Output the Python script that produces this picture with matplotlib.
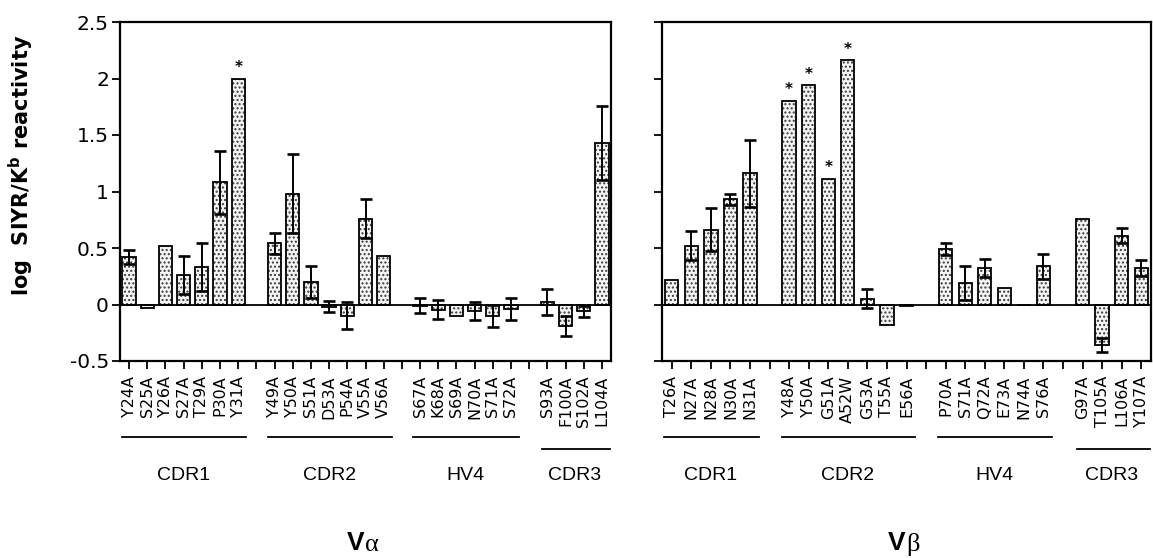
import matplotlib

matplotlib.use("Agg")
import matplotlib.pyplot as plt
from matplotlib.ticker import FuncFormatter
from matplotlib.transforms import blended_transform_factory


# ------------------------------------------------------------
# Data
# ------------------------------------------------------------

GROUP_NAMES = ["CDR1", "CDR2", "HV4", "CDR3"]

VA_MUTANTS = [
    ["Y24A", "S25A", "Y26A", "S27A", "T29A", "P30A", "Y31A"],
    ["Y49A", "Y50A", "S51A", "D53A", "P54A", "V55A", "V56A"],
    ["S67A", "K68A", "S69A", "N70A", "S71A", "S72A"],
    ["S93A", "F100A", "S102A", "L104A"],
]
VA_VALUES = [
    [0.42, -0.035, 0.52, 0.26, 0.33, 1.08, 2.00],
    [0.54, 0.98, 0.20, -0.02, -0.10, 0.76, 0.43],
    [-0.01, -0.045, -0.105, -0.06, -0.10, -0.04],
    [0.025, -0.19, -0.06, 1.43],
]
VA_ERRORS = [
    [0.06, 0.0, 0.0, 0.165, 0.21, 0.28, 0.0],
    [0.09, 0.35, 0.14, 0.05, 0.12, 0.17, 0.0],
    [0.065, 0.085, 0.0, 0.08, 0.10, 0.10],
    [0.115, 0.09, 0.05, 0.33],
]
VA_STARS = ["Y31A"]

VB_MUTANTS = [
    ["T26A", "N27A", "N28A", "N30A", "N31A"],
    ["Y48A", "Y50A", "G51A", "A52W", "G53A", "T55A", "E56A"],
    ["P70A", "S71A", "Q72A", "E73A", "N74A", "S76A"],
    ["G97A", "T105A", "L106A", "Y107A"],
]
VB_VALUES = [
    [0.22, 0.52, 0.66, 0.93, 1.16],
    [1.80, 1.94, 1.11, 2.16, 0.05, -0.18, -0.01],
    [0.49, 0.19, 0.32, 0.15, 0.0, 0.34],
    [0.76, -0.36, 0.61, 0.32],
]
VB_ERRORS = [
    [0.0, 0.13, 0.19, 0.05, 0.30],
    [0.0, 0.0, 0.0, 0.0, 0.085, 0.0, 0.0],
    [0.05, 0.15, 0.08, 0.0, 0.0, 0.11],
    [0.0, 0.06, 0.065, 0.07],
]
VB_STARS = ["Y48A", "Y50A", "G51A", "A52W"]

Y_TICKS = [-0.5, 0, 0.5, 1, 1.5, 2, 2.5]

W, H = 1153, 558


def fy(px):
    """Figure fraction from a pixel row counted from the top."""
    return 1 - px / H


def draw_panel(ax, mutants, values, errors, stars, bar_width):
    fig = ax.figure
    below = blended_transform_factory(ax.transData, fig.transFigure)

    positions, tick_labels = [], []
    pos = 0
    n_slots = sum(len(m) for m in mutants) + len(mutants) - 1
    for g, (names, vals, errs) in enumerate(zip(mutants, values, errors)):
        xs = list(range(pos, pos + len(names)))

        # dotted fill, then black outline
        ax.bar(xs, vals, bar_width, color="#f4f4f4", edgecolor="#3c3c3c",
               hatch="....", linewidth=0, zorder=2)
        ax.bar(xs, vals, bar_width, fill=False, edgecolor="black",
               linewidth=1.3, zorder=3)

        ex = [x for x, e in zip(xs, errs) if e > 0]
        ev = [v for v, e in zip(vals, errs) if e > 0]
        ee = [e for e in errs if e > 0]
        ax.errorbar(ex, ev, yerr=ee, fmt="none", ecolor="black",
                    elinewidth=1.4, capsize=4.2, capthick=1.9, zorder=4)

        for x, name, v in zip(xs, names, vals):
            if name in stars:
                ax.annotate("*", (x, v), xytext=(0, 8),
                            textcoords="offset points", ha="center",
                            va="center", fontsize=11, fontweight="bold")

        # group underline and name
        name = GROUP_NAMES[g]
        if name == "CDR3":
            line_y = fy(449)
            left, right = xs[0] - 0.3, min(xs[-1] + 0.45, n_slots - 0.55)
        else:
            line_y = fy(437)
            left, right = xs[0] - 0.38, xs[-1] + 0.45
        ax.plot([left, right], [line_y, line_y], color="black",
                linewidth=1.3, transform=below, clip_on=False)
        ax.text((xs[0] + xs[-1]) / 2, fy(476), name, transform=below,
                ha="center", va="center", fontsize=14,
                family="Liberation Sans")

        positions += xs
        tick_labels += names
        if g < len(mutants) - 1:
            positions.append(pos + len(names))
            tick_labels.append("")
        pos += len(names) + 1

    ax.set_xlim(-0.5, n_slots - 0.5)
    ax.set_ylim(-0.5, 2.5)
    ax.set_xticks(positions)
    ax.set_xticklabels(tick_labels, rotation=90, fontsize=11.5)
    ax.set_yticks(Y_TICKS)
    ax.yaxis.set_major_formatter(FuncFormatter(lambda v, p: f"{v:g}"))
    ax.axhline(0, color="black", linewidth=1.3, zorder=5)

    ax.tick_params(axis="x", direction="out", length=6, width=1.3, pad=4.5)
    ax.tick_params(axis="y", direction="out", length=6, width=1.3, pad=2,
                   labelsize=14.5)
    for spine in ax.spines.values():
        spine.set_linewidth(1.6)


fig = plt.figure(figsize=(W / 100, H / 100), dpi=100)
plt.rcParams["mathtext.fontset"] = "dejavusans"

ax_a = fig.add_axes([120 / W, fy(361), 491 / W, 339 / H])
ax_b = fig.add_axes([662 / W, fy(361), 489 / W, 339 / H])

draw_panel(ax_a, VA_MUTANTS, VA_VALUES, VA_ERRORS, VA_STARS, 0.73)
draw_panel(ax_b, VB_MUTANTS, VB_VALUES, VB_ERRORS, VB_STARS, 0.68)

ax_b.tick_params(axis="y", labelleft=False)

ax_a.set_ylabel(r"log  SIYR/K$^\mathbf{b}$ reactivity", fontsize=15,
                fontweight="bold")
ax_a.yaxis.set_label_coords(-0.172, 0.578)

# V-alpha / V-beta captions
for x_mid, greek in [(364, "\u03b1"), (905, "\u03b2")]:
    fig.text(x_mid / W, fy(543), "V", ha="right", va="center",
             fontsize=19, fontweight="bold", family="Liberation Sans")
    fig.text(x_mid / W + 0.001, fy(545), greek, ha="left", va="center",
             fontsize=19, family="Liberation Serif")

fig.savefig("out.png", dpi=100)
